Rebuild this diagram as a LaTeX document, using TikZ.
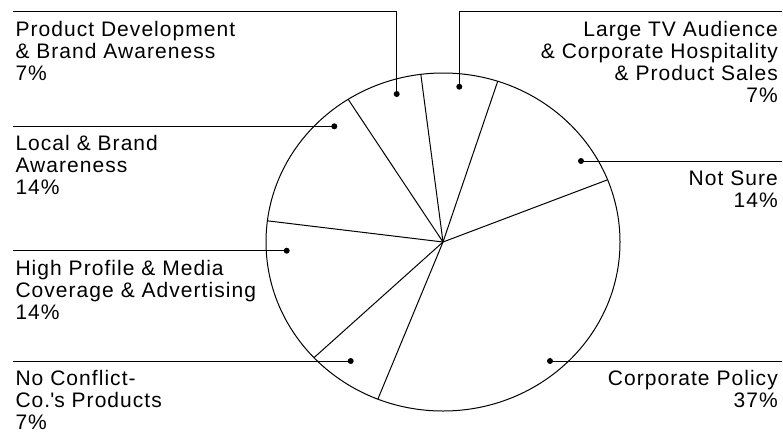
\documentclass[tikz,border=0pt]{standalone}
\usepackage{fontspec}
\setmainfont{Liberation Sans}[LetterSpace=5]
\begin{document}
\begin{tikzpicture}[x=1pt,y=-1pt,line width=1pt,
  lbl/.style={inner sep=0pt,font=\fontsize{21}{22}\selectfont}]
  \useasboundingbox (0,0) rectangle (783,432);
  % pie
  \coordinate (c) at (443,242);
  \draw (c) ellipse [x radius=177pt, y radius=169pt];
  \foreach \a in {21.6,72,97.2,122.4,172.8,223.2,248.4}
    \draw (c) -- ++(\a:177pt and 169pt);

  % leaders
  \coordinate (pdDot) at (396.7,94);
  \coordinate (tvDot) at (459.3,86.7);
  \coordinate (locDot) at (334.3,126.3);
  \coordinate (nsDot) at (581,161);
  \coordinate (hpDot) at (286.7,250.7);
  \coordinate (ncDot) at (350.7,361);
  \coordinate (cpDot) at (550,361);
  \coordinate (pdEnd) at (13.3,11.7);
  \coordinate (tvEnd) at (782,11.7);
  \coordinate (locEnd) at (13.3,126.3);
  \coordinate (nsEnd) at (782,161);
  \coordinate (hpEnd) at (13.3,250.7);
  \coordinate (ncEnd) at (13.3,361);
  \coordinate (cpEnd) at (782,361);
  \draw (pdDot) |- (pdEnd);
  \draw (tvDot) |- (tvEnd);
  \draw (locDot) -- (locEnd);
  \draw (nsDot) -- (nsEnd);
  \draw (hpDot) -- (hpEnd);
  \draw (ncDot) -- (ncEnd);
  \draw (cpDot) -- (cpEnd);
  \foreach \d in {pdDot,tvDot,locDot,nsDot,hpDot,ncDot,cpDot}
    \fill (\d) circle (3pt);

  % labels (placed at the baseline of their last line)
  \node[lbl,anchor=base west,align=left] (pd) at (15,80)
    {Product Development\\\& Brand Awareness\\7\%};
  \node[lbl,anchor=base west,align=left] (loc) at (15,194.6)
    {Local \& Brand\\Awareness\\14\%};
  \node[lbl,anchor=base west,align=left] (hp) at (15,319)
    {High Profile \& Media\\Coverage \& Advertising\\14\%};
  \node[lbl,anchor=base west,align=left] (nc) at (15,429.3)
    {No Conflict-\\Co.\textquotesingle s Products\\7\%};
  \node[lbl,anchor=base east,align=right] (tv) at (778.3,102)
    {Large TV Audience\\\& Corporate Hospitality\\\& Product Sales\\7\%};
  \node[lbl,anchor=base east,align=right] (ns) at (778.3,207.3)
    {Not Sure\\14\%};
  \node[lbl,anchor=base east,align=right] (cp) at (778.3,407.3)
    {Corporate Policy\\37\%};
\end{tikzpicture}
\end{document}
